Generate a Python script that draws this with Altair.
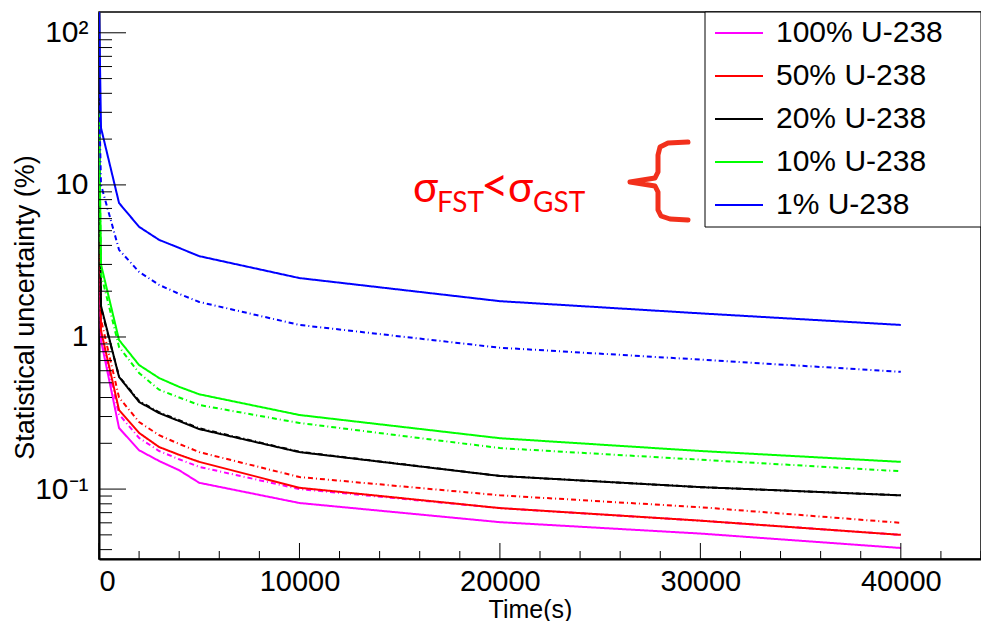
import altair as alt
import pandas as pd

# ---------------- data ----------------
time_s = [0, 100, 1000, 2000, 3000, 4000, 5000, 10000, 20000, 30000, 40000]

series_labels = ["100% U-238", "50% U-238", "20% U-238", "10% U-238", "1% U-238"]
series_colors = ["#ff00ff", "#ff0000", "#000000", "#00ff00", "#0000ff"]

# solid lines
u100_solid = [10, 0.95, 0.252, 0.18, 0.153, 0.133, 0.11, 0.081, 0.0606, 0.051, 0.041]
u50_solid = [12, 1.1, 0.331, 0.234, 0.189, 0.168, 0.151, 0.102, 0.075, 0.062, 0.05]
u20_solid = [18, 1.6, 0.546, 0.374, 0.316, 0.28, 0.248, 0.175, 0.122, 0.103, 0.091]
u10_solid = [30, 3.0, 0.955, 0.654, 0.537, 0.47, 0.42, 0.307, 0.216, 0.178, 0.151]
u1_solid = [160, 23.7, 7.6, 5.3, 4.35, 3.85, 3.4, 2.44, 1.72, 1.43, 1.2]

# dash-dot lines
u100_dashdot = [9, 1.0, 0.31, 0.217, 0.178, 0.157, 0.14, 0.1, 0.075, 0.062, 0.05]
u50_dashdot = [11, 1.3, 0.40, 0.276, 0.226, 0.198, 0.175, 0.12, 0.091, 0.076, 0.06]
u20_dashdot = [16, 1.55, 0.55, 0.38, 0.32, 0.284, 0.251, 0.176, 0.122, 0.103, 0.091]
u10_dashdot = [28, 2.6, 0.86, 0.58, 0.45, 0.40, 0.357, 0.272, 0.186, 0.156, 0.131]
u1_dashdot = [40, 10, 3.74, 2.68, 2.2, 1.92, 1.7, 1.2, 0.85, 0.71, 0.59]

x_major_ticks = [0, 10000, 20000, 30000, 40000]
x_minor_ticks = [t for t in range(0, 44001, 2000) if t % 10000 != 0]
y_major_ticks = [0.1, 1, 10, 100]
y_minor_ticks = [0.04, 0.05, 0.06, 0.07, 0.08, 0.09,
                 0.2, 0.3, 0.4, 0.5, 0.6, 0.7, 0.8, 0.9,
                 2, 3, 4, 5, 6, 7, 8, 9,
                 20, 30, 40, 50, 60, 70, 80, 90]

# ---------------- build tables ----------------
solid = [u100_solid, u50_solid, u20_solid, u10_solid, u1_solid]
dashdot = [u100_dashdot, u50_dashdot, u20_dashdot, u10_dashdot, u1_dashdot]
rows = []
for lab, s, d in zip(series_labels, solid, dashdot):
    for t, v in zip(time_s, s):
        rows.append({"t": t, "v": v, "series": lab, "style": "solid"})
    for t, v in zip(time_s, d):
        rows.append({"t": t, "v": v, "series": lab, "style": "dashdot"})
df = pd.DataFrame(rows)

W, H = 882, 547
FONT = "Liberation Sans"

xscale = alt.Scale(domain=[0, 44000], nice=False, zero=False)
yscale = alt.Scale(type="log", domain=[0.0347, 137], nice=False)

lines = alt.Chart(df).mark_line(clip=True, strokeWidth=2).encode(
    x=alt.X("t:Q", scale=xscale, axis=alt.Axis(
        values=x_major_ticks, format="d", ticks=False, grid=False,
        labelFontSize=29, labelFont=FONT, labelColor="black", labelPadding=8,
        domainColor="black", domainWidth=2,
        title="Time(s)", titleFont=FONT, titleFontSize=25, titleFontWeight="normal",
        titleColor="black", titleX=431, titleY=58, titleBaseline="alphabetic")),
    y=alt.Y("v:Q", scale=yscale, axis=alt.Axis(
        values=y_major_ticks, ticks=False, grid=False,
        labelExpr="datum.value > 50 ? '10²' : datum.value > 5 ? '10' : datum.value > 0.5 ? '1' : '10⁻¹'",
        labelFontSize=30, labelFont=FONT, labelColor="black", labelPadding=11,
        domainColor="black", domainWidth=2,
        title="Statistical uncertainty (%)", titleFont=FONT, titleFontSize=27,
        titleFontWeight="normal", titleColor="black",
        titleX=-66, titleY=295, titleBaseline="alphabetic")),
    color=alt.Color("series:N", scale=alt.Scale(domain=series_labels, range=series_colors), legend=None),
    strokeDash=alt.StrokeDash("style:N", scale=alt.Scale(domain=["solid", "dashdot"],
                                                         range=[[1, 0], [5, 3, 1, 3]]), legend=None),
)

# inward ticks (ROOT style)
ymaj = alt.Chart(pd.DataFrame({"v": y_major_ticks})).mark_rule(color="black", strokeWidth=1).encode(
    y=alt.Y("v:Q", scale=yscale), x=alt.value(0), x2=alt.value(27))
ymin = alt.Chart(pd.DataFrame({"v": y_minor_ticks})).mark_rule(color="black", strokeWidth=1).encode(
    y=alt.Y("v:Q", scale=yscale), x=alt.value(0), x2=alt.value(13))
xmaj = alt.Chart(pd.DataFrame({"t": x_major_ticks})).mark_rule(color="black", strokeWidth=1).encode(
    x=alt.X("t:Q", scale=xscale), y=alt.value(H), y2=alt.value(H - 16))
xmin = alt.Chart(pd.DataFrame({"t": x_minor_ticks})).mark_rule(color="black", strokeWidth=1).encode(
    x=alt.X("t:Q", scale=xscale), y=alt.value(H), y2=alt.value(H - 8))

# legend (drawn manually, ROOT style box)
LX = W - 276
leg_df = pd.DataFrame({"label": series_labels, "color": series_colors,
                       "ly": [21 + 43 * i for i in range(len(series_labels))]})
leg_box = alt.Chart(pd.DataFrame({"a": [0]})).mark_rect(
    fill="white", stroke="black", strokeWidth=1).encode(
    x=alt.value(LX), x2=alt.value(W), y=alt.value(0), y2=alt.value(215))
leg_sym = alt.Chart(leg_df).mark_rule(strokeWidth=2).encode(
    x=alt.value(LX + 10), x2=alt.value(LX + 58),
    y=alt.Y("ly:Q", scale=None), color=alt.Color("color:N", scale=None))
leg_txt = alt.Chart(leg_df).mark_text(align="left", baseline="middle", font=FONT,
                                      fontSize=30, color="black").encode(
    x=alt.value(LX + 71), y=alt.Y("ly:Q", scale=None), text="label:N")

# annotation sigma_FST < sigma_GST
ann_df = pd.DataFrame({
    "txt": ["σ", "FST", "<", "σ", "GST"],
    "ax": [314, 338, 382, 409, 434],
    "ay": [190, 200, 190, 190, 200],
    "fs": [42, 28, 48, 42, 28],
})
ann = alt.Chart(ann_df).mark_text(align="left", baseline="alphabetic", font="Lato",
                                  color="#ff0000").encode(
    x=alt.X("ax:Q", scale=None), y=alt.Y("ay:Q", scale=None),
    size=alt.Size("fs:Q", scale=None), text="txt:N")

brace_pts_x = [589, 569, 561, 559, 559, 556, 531, 556, 559, 559, 562, 571, 589]
brace_pts_y = [130, 131, 135, 143, 160, 166, 170, 174, 180, 198, 204, 207, 208]
brace_df = pd.DataFrame({"bx": brace_pts_x, "by": brace_pts_y, "i": list(range(len(brace_pts_x)))})
brace = alt.Chart(brace_df).mark_line(color="#f2301c", strokeWidth=5, strokeCap="round",
                                      strokeJoin="round").encode(
    x=alt.X("bx:Q", scale=None), y=alt.Y("by:Q", scale=None), order="i:Q")

chart = alt.layer(
    lines, ymaj, ymin, xmaj, xmin, leg_box, leg_sym, leg_txt, ann, brace
).properties(
    width=W, height=H,
    autosize=alt.AutoSizeParams(type="none"),
    padding={"left": 91, "top": 4, "right": 0, "bottom": 62},
    background="white",
).configure_view(stroke="black", strokeWidth=1.5)

chart.save("out.html", embed_options={"renderer": "svg", "actions": False})
